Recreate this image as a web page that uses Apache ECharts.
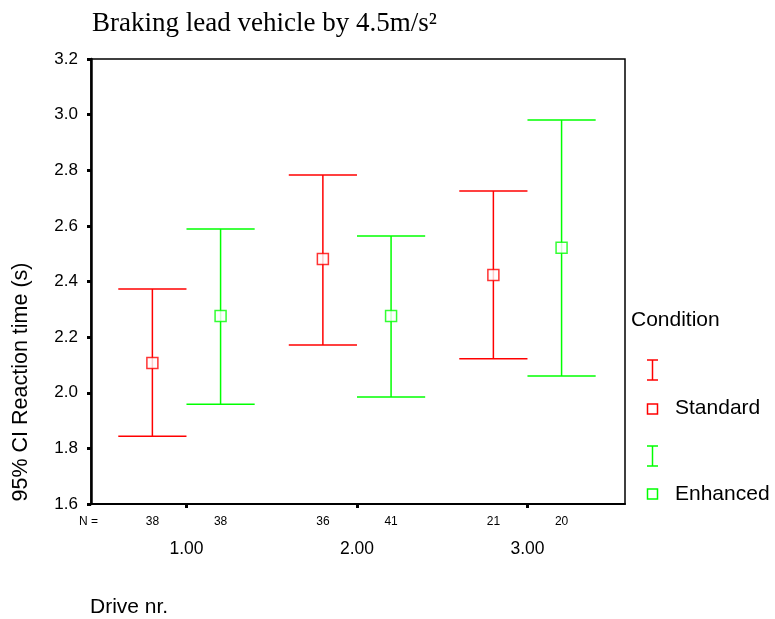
<!DOCTYPE html>
<html>
<head>
<meta charset="utf-8">
<script src="https://cdn.jsdelivr.net/npm/echarts@6/dist/echarts.min.js"></script>
<style>
html,body{margin:0;padding:0;background:#fff;}
#chart{width:775px;height:619px;}
</style>
</head>
<body>
<div id="chart"></div>
<script>
// ---- data ----
var drives = [1, 2, 3];
var driveLabels = ['1.00', '2.00', '3.00'];
var conditions = ['Standard', 'Enhanced'];
var stdMean  = [2.107, 2.481, 2.423];
var stdLow   = [1.844, 2.172, 2.122];
var stdHigh  = [2.373, 2.783, 2.725];
var stdN     = [38, 36, 21];
var enhMean  = [2.276, 2.276, 2.521];
var enhLow   = [1.959, 1.985, 2.060];
var enhHigh  = [2.589, 2.564, 2.981];
var enhN     = [38, 41, 20];
var yTicks = [1.6, 1.8, 2.0, 2.2, 2.4, 2.6, 2.8, 3.0, 3.2];

var RED = '#ff0000', GREEN = '#00ff00';
var OFF = 0.2, CAP = 0.2;

function build(means, lows, highs, ns, off) {
  return drives.map(function (d, i) {
    return [d + off, lows[i], highs[i], means[i], ns[i]];
  });
}
var stdData = build(stdMean, stdLow, stdHigh, stdN, -OFF);
var enhData = build(enhMean, enhLow, enhHigh, enhN, OFF);

var font = '"Liberation Sans", Arial, sans-serif';

function errRender(color) {
  return function (params, api) {
    var x = api.value(0);
    var lo = api.coord([x, api.value(1)]);
    var hi = api.coord([x, api.value(2)]);
    var l = api.coord([x - CAP, 0])[0];
    var r = api.coord([x + CAP, 0])[0];
    var st = {stroke: color, lineWidth: 1.5};
    return {
      type: 'group',
      children: [
        {type: 'line', shape: {x1: lo[0], y1: lo[1], x2: hi[0], y2: hi[1]}, style: st},
        {type: 'line', shape: {x1: l, y1: lo[1], x2: r, y2: lo[1]}, style: st},
        {type: 'line', shape: {x1: l, y1: hi[1], x2: r, y2: hi[1]}, style: st}
      ]
    };
  };
}
function nRender(params, api) {
  var x = api.value(0);
  var p = api.coord([x, 1.6]);
  return {
    type: 'text',
    style: {x: p[0], y: p[1] + 18, text: String(api.value(4)), fill: '#000',
      font: '12px ' + font, align: 'center', verticalAlign: 'middle'}
  };
}

var chart = echarts.init(document.getElementById('chart'));

chart.setOption({
  animation: false,
  backgroundColor: '#fff',
  title: {
    text: 'Braking lead vehicle by 4.5m/s²',
    left: 92, top: 10, padding: 0,
    textStyle: {fontFamily: '"Liberation Serif", "Times New Roman", serif', fontWeight: 'normal', fontSize: 27, color: '#000'}
  },
  grid: {left: 91, right: 150, top: 59, bottom: 115, show: true, borderColor: '#000', borderWidth: 1.5, backgroundColor: 'transparent'},
  xAxis: {
    type: 'value', min: 0.44, max: 3.572,
    splitLine: {show: false},
    axisLine: {show: true, lineStyle: {color: '#000', width: 2}},
    axisTick: {show: true, customValues: drives, length: 4, inside: false, lineStyle: {color: '#000', width: 3}},
    axisLabel: {show: true, customValues: drives, formatter: function (v) { return driveLabels[drives.indexOf(v)]; },
      margin: 36, fontSize: 17.5, fontFamily: font, color: '#000'},
    name: 'Drive nr.', nameLocation: 'start', nameGap: 1,
    nameTextStyle: {fontSize: 21, fontFamily: font, color: '#000', align: 'left', verticalAlign: 'top', padding: [93, 0, 0, 0]}
  },
  yAxis: {
    type: 'value', min: 1.6, max: 3.2, interval: 0.2,
    splitLine: {show: false},
    axisLine: {show: true, lineStyle: {color: '#000', width: 2.5}},
    axisTick: {show: true, length: 4, lineStyle: {color: '#000', width: 3}},
    axisLabel: {formatter: function (v) { return v.toFixed(1); }, margin: 13, fontSize: 17, fontFamily: font, color: '#000'}
  },
  series: [
    {type: 'custom', name: 'StandardCI', data: stdData, renderItem: errRender(RED), encode: {x: 0, y: [1, 2]}, z: 2},
    {type: 'custom', name: 'EnhancedCI', data: enhData, renderItem: errRender(GREEN), encode: {x: 0, y: [1, 2]}, z: 2},
    {type: 'scatter', name: 'Standard', data: stdData.map(function (d) { return [d[0], d[3]]; }),
      symbol: 'rect', symbolSize: 11, itemStyle: {color: '#fff', borderColor: RED, borderWidth: 1.5}, z: 3},
    {type: 'scatter', name: 'Enhanced', data: enhData.map(function (d) { return [d[0], d[3]]; }),
      symbol: 'rect', symbolSize: 11, itemStyle: {color: '#fff', borderColor: GREEN, borderWidth: 1.5}, z: 3},
    {type: 'custom', data: stdData, renderItem: nRender, clip: false, encode: {x: 0, y: 3}},
    {type: 'custom', data: enhData, renderItem: nRender, clip: false, encode: {x: 0, y: 3}}
  ],
  graphic: [
    {type: 'text', x: 21, y: 382, rotation: Math.PI / 2,
      style: {text: '95% CI Reaction time (s)', font: '21.5px ' + font, fill: '#000', align: 'center', verticalAlign: 'middle'}},
    {type: 'text', x: 79, y: 522, style: {text: 'N =', font: '12px ' + font, fill: '#000', verticalAlign: 'middle'}},
    {type: 'text', x: 631, y: 320, style: {text: 'Condition', font: '21px ' + font, fill: '#000', verticalAlign: 'middle'}},
    {type: 'group', x: 647, y: 360, children: [
      {type: 'line', shape: {x1: 5.5, y1: 0, x2: 5.5, y2: 20}, style: {stroke: RED, lineWidth: 1.5}},
      {type: 'line', shape: {x1: 0, y1: 0, x2: 11, y2: 0}, style: {stroke: RED, lineWidth: 1.5}},
      {type: 'line', shape: {x1: 0, y1: 20, x2: 11, y2: 20}, style: {stroke: RED, lineWidth: 1.5}}
    ]},
    {type: 'rect', shape: {x: 647.5, y: 404, width: 10, height: 10}, style: {fill: '#fff', stroke: RED, lineWidth: 1.5}},
    {type: 'text', x: 675, y: 408, style: {text: 'Standard', font: '21px ' + font, fill: '#000', verticalAlign: 'middle'}},
    {type: 'group', x: 647, y: 446, children: [
      {type: 'line', shape: {x1: 5.5, y1: 0, x2: 5.5, y2: 20}, style: {stroke: GREEN, lineWidth: 1.5}},
      {type: 'line', shape: {x1: 0, y1: 0, x2: 11, y2: 0}, style: {stroke: GREEN, lineWidth: 1.5}},
      {type: 'line', shape: {x1: 0, y1: 20, x2: 11, y2: 20}, style: {stroke: GREEN, lineWidth: 1.5}}
    ]},
    {type: 'rect', shape: {x: 647.5, y: 489, width: 10, height: 10}, style: {fill: '#fff', stroke: GREEN, lineWidth: 1.5}},
    {type: 'text', x: 675, y: 494, style: {text: 'Enhanced', font: '21px ' + font, fill: '#000', verticalAlign: 'middle'}}
  ]
});
</script>
</body>
</html>
